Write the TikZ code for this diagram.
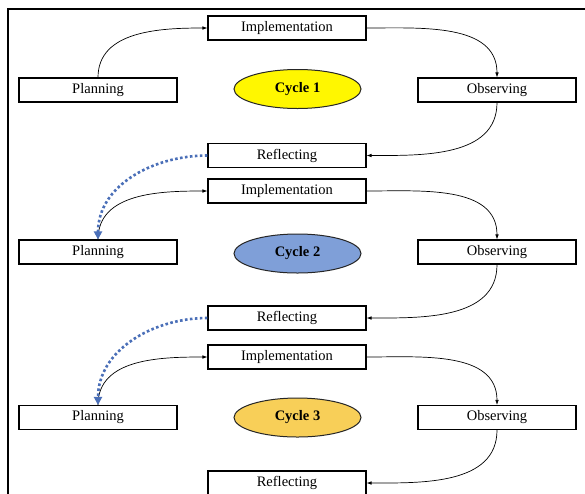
\documentclass[tikz,border=0pt]{standalone}
\usepackage{fontspec}
\setmainfont{Liberation Serif}
\usetikzlibrary{arrows.meta}
\usetikzlibrary{shapes.geometric}

\definecolor{cycleyellow}{HTML}{FFF700}
\definecolor{cycleblue}{HTML}{7F9FD8}
\definecolor{cyclegold}{HTML}{F8CF58}
\definecolor{loopblue}{HTML}{4A6FB8}

\tikzset{
    stagebox/.style={draw, line width=1.1pt, fill=white, minimum width=158pt,
        minimum height=24pt, inner sep=0pt, font=\fontsize{14.5}{16}\selectfont},
    cyclebox/.style={ellipse, draw=black!85, line width=1pt, minimum width=127pt,
        minimum height=39pt, inner sep=0pt, font=\fontsize{14.5}{16}\selectfont\bfseries},
    flow/.style={line width=0.7pt, -{Latex[length=5pt,width=3.6pt]}},
    back/.style={loopblue, line width=2.6pt, dash pattern=on 2.6pt off 2.4pt,
        -{Triangle[length=8pt,width=8pt]}},
}

\begin{document}
\begin{tikzpicture}[x=1pt,y=-1pt]
        \clip (0,0) rectangle (585,493);
        \fill [white] (0,0) rectangle (585,493);

        % Frame
        \draw [line width=2pt] (8,500) -- (8,9) -- (590,9);

        % Cycle 1
        \node [stagebox] (impl1) at (287,28)    {Implementation};
        \node [stagebox] (plan1) at (98,90)     {Planning};
        \node [stagebox] (obs1)  at (497,90)    {Observing};
        \node [cyclebox, fill=cycleyellow] (cyc1) at (297.5,89) {Cycle 1};
        \node [stagebox] (refl1) at (287,155.5) {Reflecting};

        % Cycle 2
        \node [stagebox] (impl2) at (287,191)   {Implementation};
        \node [stagebox] (plan2) at (98,252)    {Planning};
        \node [stagebox] (obs2)  at (497,252)   {Observing};
        \node [cyclebox, fill=cycleblue] (cyc2) at (297.5,253.5) {Cycle 2};
        \node [stagebox] (refl2) at (287,318)   {Reflecting};

        % Cycle 3
        \node [stagebox] (impl3) at (287,357)   {Implementation};
        \node [stagebox] (plan3) at (98,417.5)  {Planning};
        \node [stagebox] (obs3)  at (497,417.5) {Observing};
        \node [cyclebox, fill=cyclegold] (cyc3) at (297.5,417.5) {Cycle 3};
        \node [stagebox] (refl3) at (287,483)   {Reflecting};

        % Arrows within each cycle
        \draw [flow] (plan1.north) to [out=90,in=180] (impl1.west);
        \draw [flow] (impl1.east) to [out=0,in=90] (obs1.north);
        \draw [flow] (obs1.south) to [out=-90,in=0] (refl1.east);

        \draw [flow] (plan2.north) to [out=90,in=180] (impl2.west);
        \draw [flow] (impl2.east) to [out=0,in=90] (obs2.north);
        \draw [flow] (obs2.south) to [out=-90,in=0] (refl2.east);

        \draw [flow] (plan3.north) to [out=90,in=180] (impl3.west);
        \draw [flow] (impl3.east) to [out=0,in=90] (obs3.north);
        \draw [flow] (obs3.south) to [out=-90,in=0] (refl3.east);

        % Arrows between cycles
        \draw [back] (refl1.west) to [out=180,in=90] (plan2.north);
        \draw [back] (refl2.west) to [out=180,in=90] (plan3.north);
    \end{tikzpicture}
\end{document}
